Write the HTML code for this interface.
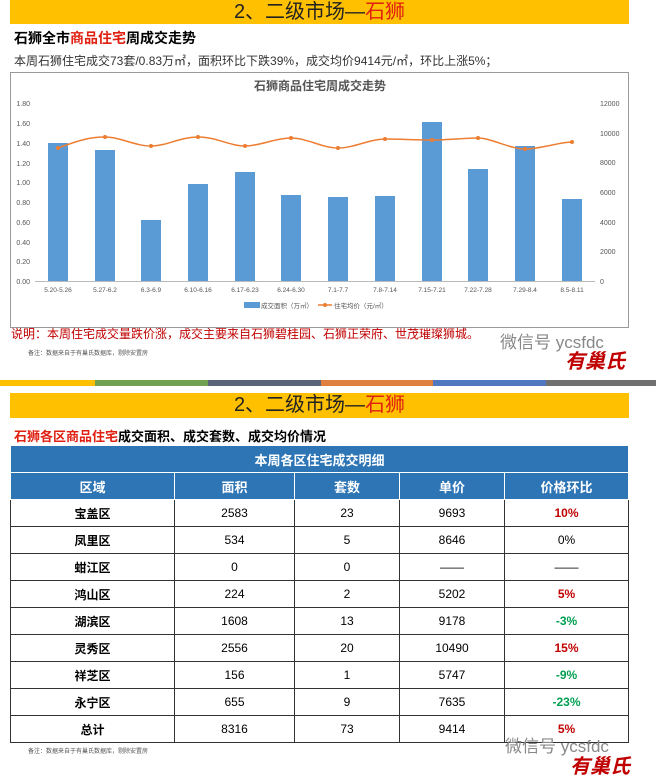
<!DOCTYPE html>
<html><head><meta charset="utf-8"><style>
body{margin:0;width:656px;height:784px;background:#fff;position:relative;overflow:hidden;font-family:"Liberation Sans","Noto Sans CJK SC",sans-serif}
.a{position:absolute}
.band{background:#ffc000;left:10px;width:619px;text-align:center;font-size:20px;color:#222}
.band span{color:#e02010}
table{border-collapse:collapse;position:absolute;left:10px;top:445px;width:619px;font-size:12px}
td{border:1px solid #333;text-align:center;height:26px;padding:0}
.h td{background:#2e75b6;color:#fff;font-weight:bold;border-color:#fff;font-size:13px}
.r{color:#c00000;font-weight:bold}.g{color:#00a050;font-weight:bold}
</style></head><body>
<div class="a band" style="top:0;height:24px;line-height:24px">2、二级市场—<span>石狮</span></div>
<div class="a" style="left:14px;top:28px;font-size:14px;font-weight:bold">石狮全市<span style="color:#e02010">商品住宅</span>周成交走势</div>
<div class="a" style="left:14px;top:52px;font-size:12px;color:#333">本周石狮住宅成交73套/0.83万㎡，面积环比下跌39%，成交均价9414元/㎡，环比上涨5%；</div>
<svg class="a" style="left:0;top:0" width="656" height="784">
<rect x="10.5" y="72.5" width="618" height="255" fill="none" stroke="#999"/>
<text x="320" y="90" font-size="12" text-anchor="middle" font-weight="bold" fill="#555">石狮商品住宅周成交走势</text>
<g font-size="7" fill="#555">
<text x="30" y="106" text-anchor="end">1.80</text><text x="30" y="126" text-anchor="end">1.60</text><text x="30" y="146" text-anchor="end">1.40</text><text x="30" y="166" text-anchor="end">1.20</text><text x="30" y="185" text-anchor="end">1.00</text><text x="30" y="205" text-anchor="end">0.80</text><text x="30" y="225" text-anchor="end">0.60</text><text x="30" y="245" text-anchor="end">0.40</text><text x="30" y="264" text-anchor="end">0.20</text><text x="30" y="284" text-anchor="end">0.00</text>
<text x="600" y="106">12000</text><text x="600" y="136">10000</text><text x="600" y="165">8000</text><text x="600" y="195">6000</text><text x="600" y="225">4000</text><text x="600" y="254">2000</text><text x="600" y="284">0</text>
</g>
<line x1="35" y1="281.5" x2="595" y2="281.5" stroke="#bbb"/>
<g fill="#5b9bd5">
<rect x="48" y="143" width="20" height="138"/><rect x="95" y="150" width="20" height="131"/><rect x="141" y="220" width="20" height="61"/><rect x="188" y="184" width="20" height="97"/><rect x="235" y="172" width="20" height="109"/><rect x="281" y="195" width="20" height="86"/><rect x="328" y="197" width="20" height="84"/><rect x="375" y="196" width="20" height="85"/><rect x="422" y="122" width="20" height="159"/><rect x="468" y="169" width="20" height="112"/><rect x="515" y="146" width="20" height="135"/><rect x="562" y="199" width="20" height="82"/>
</g>
<path d="M58 148 C80 140,90 137,105 137 S135 146,151 146 S180 137,198 137 S230 146,245 146 S275 138,291 138 S322 148,338 148 S370 139,385 139 S415 140,432 140 S465 138,478 138 S510 149,525 149 S560 142,572 142" fill="none" stroke="#ed7d31" stroke-width="1.5"/>
<g fill="#ed7d31"><circle cx="58" cy="148" r="2"/><circle cx="105" cy="137" r="2"/><circle cx="151" cy="146" r="2"/><circle cx="198" cy="137" r="2"/><circle cx="245" cy="146" r="2"/><circle cx="291" cy="138" r="2"/><circle cx="338" cy="148" r="2"/><circle cx="385" cy="139" r="2"/><circle cx="432" cy="140" r="2"/><circle cx="478" cy="138" r="2"/><circle cx="525" cy="149" r="2"/><circle cx="572" cy="142" r="2"/></g>
<g font-size="6.5" fill="#555" text-anchor="middle">
<text x="58" y="292">5.20-5.26</text><text x="105" y="292">5.27-6.2</text><text x="151" y="292">6.3-6.9</text><text x="198" y="292">6.10-6.16</text><text x="245" y="292">6.17-6.23</text><text x="291" y="292">6.24-6.30</text><text x="338" y="292">7.1-7.7</text><text x="385" y="292">7.8-7.14</text><text x="432" y="292">7.15-7.21</text><text x="478" y="292">7.22-7.28</text><text x="525" y="292">7.29-8.4</text><text x="572" y="292">8.5-8.11</text>
</g>
<rect x="244" y="302" width="16" height="6" fill="#5b9bd5"/>
<text x="261" y="308" font-size="6.5" fill="#555">成交面积（万㎡）</text>
<line x1="318" y1="305" x2="332" y2="305" stroke="#ed7d31" stroke-width="1.5"/><circle cx="325" cy="305" r="2" fill="#ed7d31"/>
<text x="334" y="308" font-size="6.5" fill="#555">住宅均价（元/㎡）</text>
<rect x="0" y="380" width="95" height="6" fill="#ffc000"/><rect x="95" y="380" width="113" height="6" fill="#70a050"/><rect x="208" y="380" width="113" height="6" fill="#5a6478"/><rect x="321" y="380" width="112" height="6" fill="#e08040"/><rect x="433" y="380" width="113" height="6" fill="#4f78c0"/><rect x="546" y="380" width="110" height="6" fill="#707070"/>
</svg>
<div class="a" style="left:11px;top:325px;font-size:12px;color:#c00000">说明：本周住宅成交量跌价涨，成交主要来自石狮碧桂园、石狮正荣府、世茂璀璨狮城。</div>
<div class="a" style="left:28px;top:348px;font-size:6px;color:#555">备注：数据来自于有巢氏数据库，剔除安置房</div>
<div class="a" style="left:500px;top:328px;font-size:17px;color:#888">微信号 ycsfdc</div>
<div class="a" style="left:565px;top:345px;font-size:20px;color:#c00000;font-weight:bold;font-style:italic">有巢氏</div>
<div class="a band" style="top:393px;height:25px;line-height:25px">2、二级市场—<span>石狮</span></div>
<div class="a" style="left:14px;top:426px;font-size:13px;font-weight:bold"><span style="color:#e02010">石狮各区商品住宅</span>成交面积、成交套数、成交均价情况</div>
<table>
<tr class="h"><td colspan="5" style="height:26px">本周各区住宅成交明细</td></tr>
<tr class="h"><td style="width:163px">区域</td><td style="width:119px">面积</td><td style="width:104px">套数</td><td style="width:104px">单价</td><td>价格环比</td></tr>
<tr><td><b>宝盖区</b></td><td>2583</td><td>23</td><td>9693</td><td class="r">10%</td></tr>
<tr><td><b>凤里区</b></td><td>534</td><td>5</td><td>8646</td><td>0%</td></tr>
<tr><td><b>蚶江区</b></td><td>0</td><td>0</td><td>——</td><td>——</td></tr>
<tr><td><b>鸿山区</b></td><td>224</td><td>2</td><td>5202</td><td class="r">5%</td></tr>
<tr><td><b>湖滨区</b></td><td>1608</td><td>13</td><td>9178</td><td class="g">-3%</td></tr>
<tr><td><b>灵秀区</b></td><td>2556</td><td>20</td><td>10490</td><td class="r">15%</td></tr>
<tr><td><b>祥芝区</b></td><td>156</td><td>1</td><td>5747</td><td class="g">-9%</td></tr>
<tr><td><b>永宁区</b></td><td>655</td><td>9</td><td>7635</td><td class="g">-23%</td></tr>
<tr><td><b>总计</b></td><td>8316</td><td>73</td><td>9414</td><td class="r">5%</td></tr>
</table>
<div class="a" style="left:28px;top:746px;font-size:6px;color:#555">备注：数据来自于有巢氏数据库，剔除安置房</div>
<div class="a" style="left:505px;top:732px;font-size:17px;color:#888">微信号 ycsfdc</div>
<div class="a" style="left:570px;top:750px;font-size:20px;color:#c00000;font-weight:bold;font-style:italic">有巢氏</div>
</body></html>
